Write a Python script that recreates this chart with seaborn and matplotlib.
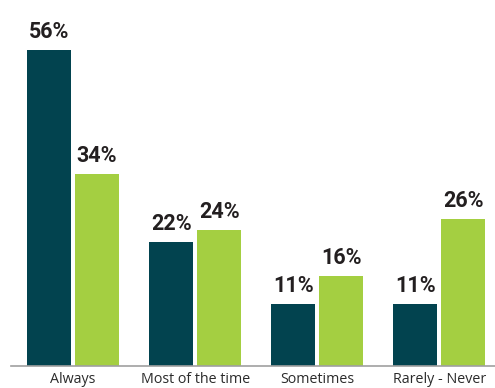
import matplotlib
matplotlib.use("Agg")
import matplotlib.pyplot as plt
import seaborn as sns
import pandas as pd

categories = ["Always", "Most of the time", "Sometimes", "Rarely - Never"]
series_a = [56, 22, 11, 11]
series_b = [34, 24, 16, 26]
series_names = ["A", "B"]
colors = ["#02434F", "#A4CF41"]

df = pd.DataFrame({
    "category": categories * 2,
    "value": series_a + series_b,
    "series": [series_names[0]] * 4 + [series_names[1]] * 4,
})

sns.set_theme(style="white")
plt.rcParams["font.family"] = ["Roboto", "DejaVu Sans"]

fig = plt.figure(figsize=(4.95, 3.88), dpi=100)
ax = fig.add_axes([11 / 495, 22 / 388, 484 / 495, 366 / 388])

sns.barplot(data=df, x="category", y="value", hue="series", palette=colors,
            width=0.787, gap=0.083, ax=ax, legend=False, saturation=1,
            linewidth=0)

for cont in ax.containers:
    ax.bar_label(cont, labels=[f"{v:.0f}%" for v in cont.datavalues],
                 padding=5, fontsize=15.5, fontweight="bold", color="#231F20")

ax.set_xlim(-0.508, 3.455)
ax.set_ylim(0, 64.8)
ax.set_xlabel("")
ax.set_ylabel("")
ax.set_yticks([])
for s in ["top", "right", "left"]:
    ax.spines[s].set_visible(False)
ax.spines["bottom"].set_color("#A0A0A0")
ax.spines["bottom"].set_linewidth(1.2)
ax.tick_params(axis="x", length=0, pad=4, labelcolor="#2B2B2B")
for t in ax.get_xticklabels():
    t.set_family(["Open Sans", "DejaVu Sans"])
    t.set_fontsize(10.3)

fig.savefig("out.png", dpi=100)
